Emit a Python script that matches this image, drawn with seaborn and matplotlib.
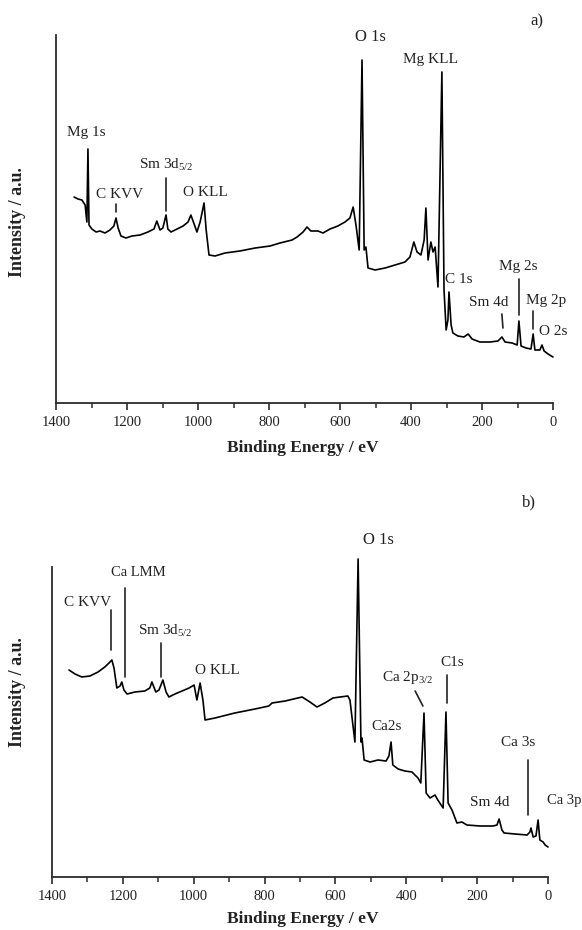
import matplotlib
matplotlib.use("Agg")
import matplotlib.pyplot as plt
import seaborn as sns
import pandas as pd

# ---------------- data ----------------
# panel a) : binding energy (eV) and intensity (a.u.)
energy_a = [1349, 1338, 1327, 1318, 1313, 1310, 1307, 1299, 1287, 1276, 1262, 1248,
            1237, 1231, 1225, 1217, 1203, 1186, 1163, 1141, 1124, 1116, 1107, 1099,
            1090, 1085, 1076, 1059, 1042, 1028, 1020, 1011, 1003, 994, 983, 977, 969,
            952, 924, 882, 839, 797, 769, 735, 721, 704, 693, 682, 662, 648, 628, 606,
            586, 572, 563, 555, 546, 538, 532, 527, 521, 501, 473, 445, 417, 403, 392,
            383, 372, 363, 358, 352, 344, 338, 332, 324, 313, 307, 301, 296, 293, 287,
            282, 268, 251, 239, 228, 206, 177, 155, 144, 135, 115, 101, 96, 90, 76, 62,
            56, 51, 37, 31, 25, 14, 0]
intensity_a = [206, 204, 203, 198, 181, 254, 178, 174, 171, 172, 170, 173,
               177, 185, 175, 167, 165, 167, 168, 171, 174, 182, 173, 175,
               188, 174, 171, 174, 177, 181, 188, 179, 171, 181, 200, 173, 148,
               147, 150, 152, 155, 157, 160, 163, 166, 171, 176, 172, 172, 170, 174, 177,
               181, 185, 196, 178, 153, 343, 153, 156, 135, 133, 135, 138, 141, 146, 161,
               151, 148, 163, 195, 143, 161, 151, 156, 116, 331, 113, 73, 83, 111, 78,
               70, 67, 66, 69, 64, 61, 61, 62, 66, 61, 60, 58, 82, 57, 55, 54,
               69, 53, 53, 58, 52, 49, 46]

# panel b)
energy_b = [1352, 1335, 1316, 1293, 1270, 1251, 1239, 1231, 1225, 1217, 1208, 1203,
            1197, 1188, 1166, 1138, 1124, 1118, 1107, 1098, 1087, 1078, 1070, 1053,
            1033, 1013, 999, 991, 982, 974, 968, 940, 884, 827, 788, 779, 742, 694,
            672, 652, 630, 607, 587, 565, 559, 545, 536, 528, 525, 519, 502, 480, 457,
            449, 443, 438, 423, 404, 384, 367, 359, 350, 344, 333, 319, 311, 296, 288,
            282, 271, 257, 243, 229, 192, 155, 144, 138, 130, 124, 93, 59, 51, 48, 42,
            34, 28, 23, 14, 8, 0]
intensity_b = [207, 203, 200, 201, 205, 210, 214, 217, 209, 189, 191, 195,
               187, 183, 185, 186, 189, 195, 185, 187, 197, 185, 180, 183,
               186, 189, 192, 177, 194, 177, 157, 159, 164, 168, 171, 174, 176, 180,
               175, 170, 174, 179, 180, 181, 177, 135, 318, 135, 139, 117, 115, 117, 116,
               121, 135, 112, 108, 106, 105, 99, 94, 164, 84, 79, 82, 77, 69, 165,
               74, 67, 54, 55, 52, 51, 51, 52, 58, 47, 44, 43, 42, 45, 49, 40,
               41, 57, 37, 35, 32, 30]

# peak labels: text, energy, intensity, alignment, size
labels_a = [("Mg 1s", 1316, 271, "center", 11),
            ("C KVV", 1220, 209, "center", 11),
            ("Sm 3d$_{5/2}$", 1166, 238, "left", 11),
            ("O KLL", 980, 211, "center", 11),
            ("O 1s", 513, 366, "center", 12),
            ("Mg KLL", 346, 344, "center", 11),
            ("C 1s", 304, 124, "left", 11),
            ("Sm 4d", 180, 101, "center", 11),
            ("Mg 2s", 99, 137, "center", 11),
            ("Mg 2p", 20, 103, "center", 11),
            ("O 2s", 40, 72, "left", 11)]
# label leader lines: (E1, I1, E2, I2)
leaders_a = [(1231, 191, 1231, 199), (1090, 192, 1090, 225), (144, 89, 141, 75),
             (96, 88, 96, 124), (56, 74, 56, 92)]

labels_b = [("C KVV", 1299, 274, "center", 11),
            ("Ca LMM", 1157, 304, "center", 10.5),
            ("Sm 3d$_{5/2}$", 1157, 246, "left", 11),
            ("O KLL", 932, 207, "center", 11),
            ("O 1s", 480, 337, "center", 12),
            ("Ca 2p$_{3/2}$", 469, 199, "left", 11),
            ("C1s", 271, 215, "center", 11),
            ("Ca2s", 455, 150, "center", 11),
            ("Sm 4d", 164, 75, "center", 11),
            ("Ca 3s", 85, 134, "center", 11),
            ("Ca 3p", 3, 77, "left", 10.5)]
leaders_b = [(1234, 227, 1234, 267), (1194, 200, 1194, 289), (1093, 200, 1093, 234),
             (375, 186, 353, 171), (285, 174, 285, 202), (56, 62, 56, 117)]

# ---------------- styling ----------------
sns.set_theme(style="ticks")
plt.rcParams["font.family"] = ["Liberation Serif", "DejaVu Serif"]
plt.rcParams["mathtext.fontset"] = "custom"
plt.rcParams["mathtext.rm"] = "Liberation Serif"
plt.rcParams["mathtext.it"] = "Liberation Serif:italic"
plt.rcParams["mathtext.bf"] = "Liberation Serif:bold"

W, H = 582, 930
fig = plt.figure(figsize=(W / 100, H / 100), dpi=100)
fig.patch.set_facecolor("white")

def px_axes(l, t, r, b):
    return fig.add_axes([l / W, 1 - b / H, (r - l) / W, (b - t) / H])

ax_a = px_axes(56, 35, 553, 403)
ax_b = px_axes(52, 567, 548, 877)

axis_col = "#2b2b2b"

def style(ax, ymax):
    ax.set_xlim(1400, 0)
    ax.set_ylim(0, ymax)
    for s in ["top", "right"]:
        ax.spines[s].set_visible(False)
    for s in ["left", "bottom"]:
        ax.spines[s].set_linewidth(1.3)
        ax.spines[s].set_color(axis_col)
    ax.set_yticks([])
    ax.set_xticks(range(0, 1401, 200))
    ax.set_xticks(range(100, 1400, 200), minor=True)
    ax.tick_params(axis="x", which="major", direction="out", length=5, width=1.2,
                   color=axis_col, labelsize=10.5, pad=4, labelcolor="#222222")
    ax.tick_params(axis="x", which="minor", direction="out", length=3.5, width=1.1,
                   color=axis_col)
    ax.set_xlabel("")
    ax.set_ylabel("")
    ax.set_facecolor("white")

def draw(ax, e, inten, labels, leaders):
    df = pd.DataFrame({"Binding Energy": e, "Intensity": inten})
    sns.lineplot(data=df, x="Binding Energy", y="Intensity", ax=ax, sort=False,
                 estimator=None, color="black", linewidth=1.2)
    for ln in ax.get_lines():
        ln.set_clip_on(False)
    for txt, x, y, ha, fs in labels:
        ax.text(x, y, txt, ha=ha, va="center", fontsize=fs, color="#222222",
                clip_on=False)
    for x1, y1, x2, y2 in leaders:
        ax.plot([x1, x2], [y1, y2], color="#222222", lw=1.2, clip_on=False)

draw(ax_a, energy_a, intensity_a, labels_a, leaders_a)
draw(ax_b, energy_b, intensity_b, labels_b, leaders_b)
style(ax_a, 368)
style(ax_b, 310)

# axis titles
fig.text(303 / W, 1 - 448 / H, "Binding Energy / eV", ha="center", va="center",
         fontsize=12.5, fontweight="bold", color="#222222")
fig.text(303 / W, 1 - 919 / H, "Binding Energy / eV", ha="center", va="center",
         fontsize=12.5, fontweight="bold", color="#222222")
fig.text(18 / W, 1 - 222 / H, "Intensity / a.u.", ha="center", va="center",
         rotation=90, fontsize=13, fontweight="bold", color="#222222")
fig.text(18 / W, 1 - 692 / H, "Intensity / a.u.", ha="center", va="center",
         rotation=90, fontsize=13, fontweight="bold", color="#222222")
fig.text(537 / W, 1 - 21 / H, "a)", ha="center", va="center", fontsize=12,
         color="#222222")
fig.text(529 / W, 1 - 502 / H, "b)", ha="center", va="center", fontsize=12,
         color="#222222")

fig.savefig("out.png", dpi=100, facecolor="white")
